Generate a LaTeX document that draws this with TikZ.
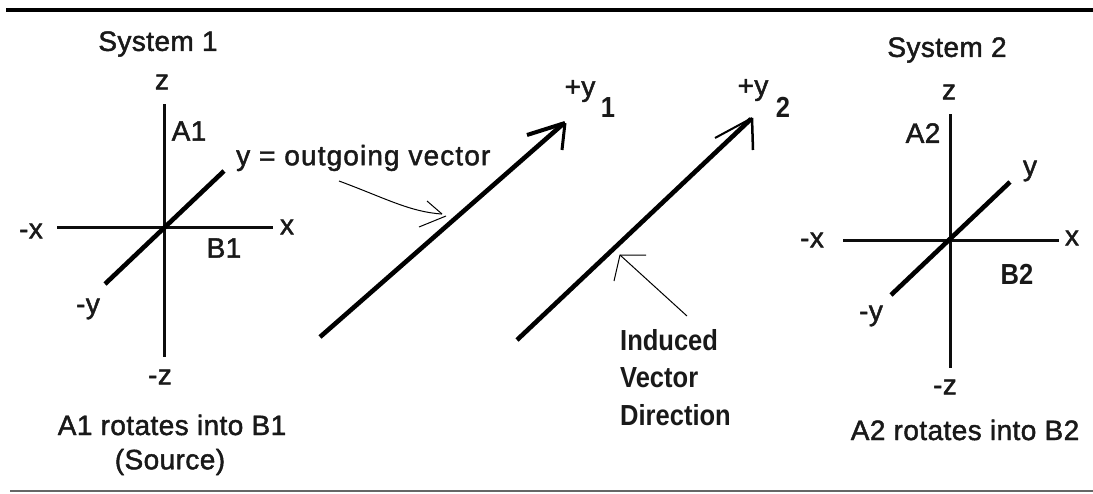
\documentclass[tikz,border=0pt]{standalone}
\usepackage{fontspec}
\setmainfont[FakeBold=1.6,LetterSpace=1.5]{Liberation Sans}
\newfontfamily\widefont[FakeBold=1.6,LetterSpace=4]{Liberation Sans}
\newfontfamily\heavyfont{Liberation Sans Bold}
\begin{document}
\begin{tikzpicture}[x=1pt,y=-1pt,line join=round,
  axis/.style={draw=black!95,line width=3pt},
  diag/.style={draw=black,line width=4.6pt},
  shaft/.style={draw=black,line width=4.6pt},
  thin arrow/.style={draw=black,line width=1pt},
  lab/.style={inner sep=0pt,font=\fontsize{28}{32}\selectfont,text=black!90},
  widelab/.style={inner sep=0pt,font=\fontsize{28}{32}\widefont,text=black!90},
  blab/.style={inner sep=0pt,xscale=.88,font=\fontsize{29}{32}\heavyfont,text=black!90}]
\useasboundingbox (0,0) rectangle (1093,493);
\fill[white] (0,0) rectangle (1093,493);
% rules
\coordinate (t1) at (6,10); \coordinate (t2) at (1093,10);
\coordinate (b1) at (10,491); \coordinate (b2) at (1093,491);
\draw[line width=4pt] (t1) -- (t2);
\draw[line width=1.2pt,draw=black!60] (b1) -- (b2);
% system 1
\coordinate (a1) at (164,104); \coordinate (a2) at (164,357);
\coordinate (a3) at (57,227); \coordinate (a4) at (273,227);
\coordinate (a5) at (105,284); \coordinate (a6) at (224,171);
\draw[axis] (a1) -- (a2);
\draw[axis] (a3) -- (a4);
\draw[diag] (a5) -- (a6);
\node[lab] (s1) at (158,44) {System 1};
\node[lab] (zp1) at (162,82) {z};
\node[lab] (A1) at (189,131) {A1};
\node[widelab,anchor=west] (yo) at (236,158) {y = outgoing vector};
\node[lab] (xm1) at (31,231) {-x};
\node[lab] (xp1) at (287,227) {x};
\node[lab] (B1) at (224,248) {B1};
\node[lab] (ym1) at (88,309) {-y};
\node[lab] (zm1) at (160,377) {-z};
\node[lab] (c1) at (172,425) {A1 rotates into B1};
\node[lab] (c2) at (170,462) {(Source)};
% vector 1
\coordinate (v1) at (320,337); \coordinate (v2) at (563,124);
\coordinate (h1) at (527,135); \coordinate (h2) at (562,150);
\draw[shaft] (v1) -- (v2);
\draw[line width=4pt] (h1) -- (565,123);
\draw[line width=3pt] (565,123) -- (h2);
\node[lab] (py1) at (580,91) {+y};
\node[blab] (n1) at (608,108) {1};
% vector 2
\coordinate (w1) at (517,340); \coordinate (w2) at (751,119);
\coordinate (k1) at (715,138); \coordinate (k2) at (753,150);
\draw[shaft] (w1) -- (w2);
\draw[line width=2pt] (k1) -- (752,118);
\draw[line width=2.5pt] (752,118) -- (k2);
\node[lab] (py2) at (753,90) {+y};
\node[blab] (n2) at (783,107) {2};
% thin arrows
\coordinate (p1) at (339,181); \coordinate (p2) at (442,214);
\coordinate (p3) at (427,201); \coordinate (p4) at (419,227); \coordinate (p5) at (446,216);
\draw[thin arrow] (p1) .. controls (385,198) and (410,212) .. (p2);
\draw[thin arrow] (p3) -- (p2) (p4) -- (p5);
\coordinate (q1) at (687,316); \coordinate (q2) at (620,255);
\coordinate (q3) at (646,255); \coordinate (q4) at (614,281);
\draw[thin arrow] (q1) -- (q2);
\draw[thin arrow] (q3) -- (q2) -- (q4);
\node[blab,anchor=west] (i1) at (620,340) {Induced};
\node[blab,anchor=west] (i2) at (620,378) {Vector};
\node[blab,anchor=west] (i3) at (620,415) {Direction};
% system 2
\coordinate (d1) at (950,114); \coordinate (d2) at (950,368);
\coordinate (d3) at (843,240); \coordinate (d4) at (1059,240);
\coordinate (d5) at (891,295); \coordinate (d6) at (1010,182);
\draw[axis] (d1) -- (d2);
\draw[axis] (d3) -- (d4);
\draw[diag] (d5) -- (d6);
\node[lab] (s2) at (947,50) {System 2};
\node[lab] (zp2) at (949,92) {z};
\node[lab] (A2) at (923,133) {A2};
\node[lab] (yp2) at (1030,171) {y};
\node[lab] (xm2) at (812,240) {-x};
\node[lab] (xp2) at (1072,238) {x};
\node[blab] (B2) at (1017,274) {B2};
\node[lab] (ym2) at (871,316) {-y};
\node[lab] (zm2) at (945,387) {-z};
\node[lab] (c3) at (965,430) {A2 rotates into B2};
\end{tikzpicture}
\end{document}
